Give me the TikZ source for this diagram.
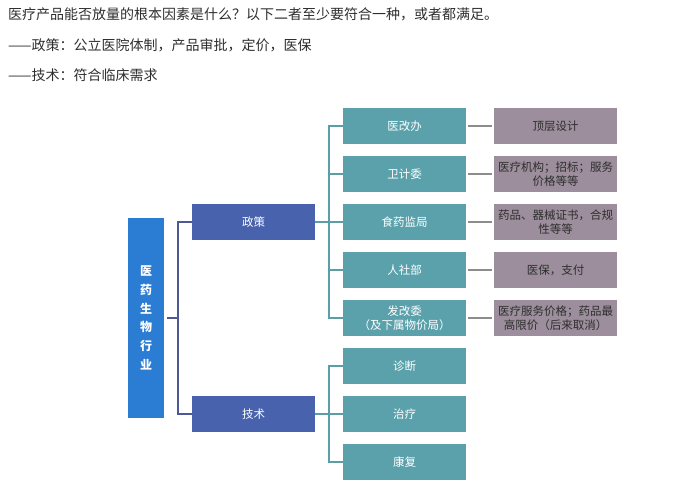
\documentclass[tikz,border=0pt]{standalone}
\usepackage{fontspec}
\setmainfont{Noto Sans CJK SC}
\usepackage{xcolor}
\usepackage{tikz}
\usetikzlibrary{positioning,calc}
\definecolor{prootblue}{HTML}{2B7CD3}
\definecolor{pnavy}{HTML}{4862AD}
\definecolor{pteal}{HTML}{5AA1AB}
\definecolor{pmauve}{HTML}{9C8E9C}
\definecolor{pbrk}{HTML}{4B5A96}
\definecolor{ptline}{HTML}{5B9FA6}
\definecolor{pgray}{HTML}{8C8C8C}
\definecolor{ptext}{HTML}{2E2E2E}

\begin{document}
\begin{tikzpicture}[
    x=1pt,y=-1pt,
    hd/.style={anchor=west,inner sep=0pt,font=\fontsize{14}{17}\selectfont,text=ptext},
    rootbx/.style={fill=prootblue,minimum width=36pt,minimum height=200pt,
                   inner sep=0pt,align=center,text=white,
                   font=\fontsize{12}{18.7}\selectfont\bfseries},
    nbx/.style={fill=pnavy,minimum width=123pt,minimum height=36pt,
                inner sep=0pt,align=center,text=white,
                font=\fontsize{11.5}{14}\selectfont},
    tbx/.style={fill=pteal,minimum width=123pt,minimum height=36pt,
                inner sep=0pt,align=center,text=white,
                font=\fontsize{11.5}{14}\selectfont},
    mbx/.style={fill=pmauve,minimum width=123pt,minimum height=36pt,
                inner sep=0pt,align=center,text=ptext,
                font=\fontsize{11.5}{14}\selectfont},
    lbr/.style={pbrk,line width=1.6pt},
    tbr/.style={ptline,line width=1.6pt},
    gln/.style={pgray,line width=1.6pt}
  ]
    \useasboundingbox (0,0) rectangle (684,496);

    % Header
    \node[hd] (h1) at (8,14) {医疗产品能否放量的根本因素是什么？以下二者至少要符合一种，或者都满足。};
    \node[hd] (h2) at (8,45) {——政策：公立医院体制，产品审批，定价，医保};
    \node[hd] (h3) at (8,75) {——技术：符合临床需求};

    % Boxes
    \node[rootbx] (root) at (146,318) {医\\药\\生\\物\\行\\业};
    \node[nbx] (pol)  at (253.5,222) {政策};
    \node[nbx] (tech) at (253.5,414) {技术};

    \node[tbx] (g1) at (404.5,126) {医改办};
    \node[tbx] (g2) at (404.5,174) {卫计委};
    \node[tbx] (g3) at (404.5,222) {食药监局};
    \node[tbx] (g4) at (404.5,270) {人社部};
    \node[tbx] (g5) at (404.5,318) {发改委\\（及下属物价局）};
    \node[tbx] (t1) at (404.5,366) {诊断};
    \node[tbx] (t2) at (404.5,414) {治疗};
    \node[tbx] (t3) at (404.5,462) {康复};

    \node[mbx] (d1) at (555.5,126) {顶层设计};
    \node[mbx] (d2) at (555.5,174) {医疗机构；招标；服务\\价格等等};
    \node[mbx] (d3) at (555.5,222) {药品、器械证书，合规\\性等等};
    \node[mbx] (d4) at (555.5,270) {医保，支付};
    \node[mbx] (d5) at (555.5,318) {医疗服务价格；药品最\\高限价（后来取消）};

    % Brackets
    \coordinate (rj) at ($(root.east)+(14,0)$);
    \draw[lbr] ($(root.east)+(3,0)$) -- (rj);
    \draw[lbr] (pol.west) -| (rj) |- (tech.west);

    \draw[tbr] (pol.east) -- ++(16,0);
    \draw[tbr] (g1.west) -- ++(-14,0) |- (g5.west);
    \foreach \i in {2,3,4}
      \draw[tbr] (g\i.west) -- ++(-14,0);

    \draw[tbr] (tech.east) -- ++(16,0);
    \draw[tbr] (t1.west) -- ++(-14,0) |- (t3.west);
    \draw[tbr] (t2.west) -- ++(-14,0);

    % Links
    \foreach \i in {1,...,5}
      \draw[gln] ([xshift=2pt]g\i.east) -- ([xshift=-2pt]d\i.west);

  \end{tikzpicture}
\end{document}
